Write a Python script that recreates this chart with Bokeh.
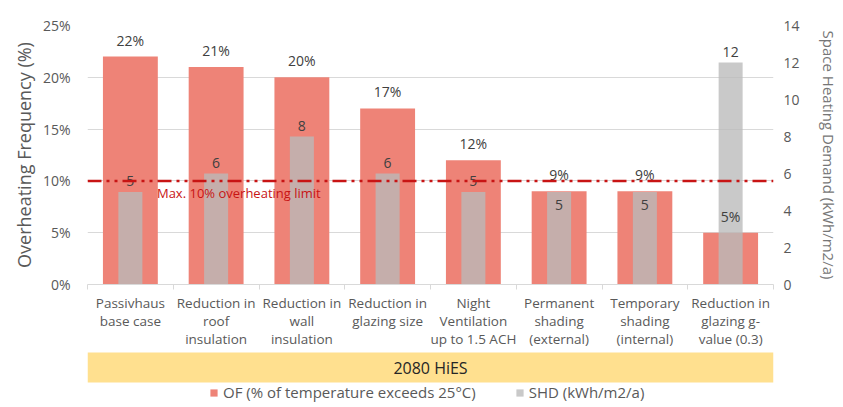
from bokeh.plotting import figure
from bokeh.models import (Range1d, LinearAxis, FixedTicker, PrintfTickFormatter, Grid,
                          Span, Label, Legend, LegendItem, ColumnDataSource, BoxAnnotation)
from bokeh.layouts import column
from bokeh.core.properties import value
from bokeh.embed import file_html
from bokeh.resources import INLINE

# Measures tested for the 2080 HiES climate scenario
categories = [
    "Passivhaus\nbase case",
    "Reduction in\nroof\ninsulation",
    "Reduction in\nwall\ninsulation",
    "Reduction in\nglazing size",
    "Night\nVentilation\nup to 1.5 ACH",
    "Permanent\nshading\n(external)",
    "Temporary\nshading\n(internal)",
    "Reduction in\nglazing g-\nvalue (0.3)",
]
overheating_pct = [22, 21, 20, 17, 12, 9, 9, 5]          # OF, % of hours above 25°C
heating_demand = [5, 6, 8, 6, 5, 5, 5, 12]               # SHD, kWh/m2/a
of_ticks = [0, 5, 10, 15, 20, 25]
shd_ticks = [0, 2, 4, 6, 8, 10, 12, 14]
overheating_limit = 10

FONT = "Open Sans"
RED = "#EE8377"
GREY = "#BABABA"
TEXT = "#595959"

n = len(categories)
xpos = [i + 0.5 for i in range(n)]
OF_MAX, SHD_MAX = of_ticks[-1], shd_ticks[-1]

p = figure(width=843, height=351, x_range=Range1d(0, n), y_range=Range1d(0, OF_MAX),
           x_axis_type=None, y_axis_type=None, output_backend="svg",
           toolbar_location=None, min_border_left=84, min_border_right=70,
           min_border_top=25, min_border_bottom=67, outline_line_color=None)
p.extra_y_ranges = {"shd": Range1d(0, SHD_MAX)}

# left axis: overheating frequency
yl = LinearAxis(ticker=FixedTicker(ticks=of_ticks), formatter=PrintfTickFormatter(format="%d%%"),
                axis_label="Overheating Frequency (%)")
# right axis: space heating demand
yr = LinearAxis(y_range_name="shd", ticker=FixedTicker(ticks=shd_ticks),
                axis_label="Space Heating Demand (kWh/m2/a)")
for ax, size, col, lstand, tstand in ((yl, "18px", TEXT, 17, 4), (yr, "15px", "#767676", 10, 16)):
    ax.axis_line_color = None
    ax.major_tick_line_color = None
    ax.minor_tick_line_color = None
    ax.major_tick_out = 0
    ax.minor_tick_out = 0
    ax.major_label_text_font = FONT
    ax.major_label_text_font_size = "14px"
    ax.major_label_text_color = TEXT
    ax.major_label_standoff = lstand
    ax.axis_label_text_font = FONT
    ax.axis_label_text_font_size = size
    ax.axis_label_text_font_style = "normal"
    ax.axis_label_text_color = col
    ax.axis_label_standoff = tstand
p.add_layout(yl, "left")
p.add_layout(yr, "right")

# category axis: labels at centres, tick marks between categories
xa = LinearAxis(ticker=FixedTicker(ticks=xpos, minor_ticks=list(range(n + 1))),
                major_label_overrides={x: c for x, c in zip(xpos, categories)})
xa.axis_line_color = "#D9D9D9"
xa.major_tick_line_color = None
xa.major_tick_out = 0
xa.minor_tick_line_color = "#D9D9D9"
xa.minor_tick_in = 0
xa.minor_tick_out = 5
xa.major_label_text_font = FONT
xa.major_label_text_font_size = "13.5px"
xa.major_label_text_color = TEXT
xa.major_label_text_line_height = 1.0
xa.major_label_standoff = 4
p.add_layout(xa, "below")

p.add_layout(Grid(dimension=1, ticker=yl.ticker, grid_line_color="#D9D9D9"))

src = ColumnDataSource(dict(x=xpos, of=overheating_pct, shd=heating_demand,
                            of_lbl=[f"{v}%" for v in overheating_pct],
                            shd_lbl=[str(v) for v in heating_demand]))
of_bars = p.vbar(x="x", top="of", width=0.64, source=src, fill_color=RED, line_color=None)
shd_bars = p.vbar(x="x", top="shd", width=0.28, source=src, y_range_name="shd",
                  fill_color=GREY, fill_alpha=0.78, line_color=None)

p.add_layout(Span(location=overheating_limit, dimension="width", line_color="#C81414",
                  line_width=2.5, line_dash="14 5 3 5 3 5"))
p.add_layout(Label(x=0.81, y=overheating_limit, text="Max. 10% overheating limit",
                   text_font=FONT, text_font_size="13px", text_color="#C81414",
                   text_baseline="top", y_offset=-3))

# value labels
p.text(x="x", y="of", text="of_lbl", source=src, text_align="center", text_baseline="bottom",
       y_offset=-7, text_font=value(FONT), text_font_size="14px", text_color="#404040")

# SHD labels sit above the bar, or just inside it where the OF label would collide
above, inside = {k: [] for k in ("x", "shd", "lbl")}, {k: [] for k in ("x", "shd", "lbl")}
for x, of, shd in zip(xpos, overheating_pct, heating_demand):
    target = inside if abs(of * SHD_MAX / OF_MAX - shd) < 1 else above
    target["x"].append(x); target["shd"].append(shd); target["lbl"].append(str(shd))
p.text(x="x", y="shd", text="lbl", source=ColumnDataSource(above), y_range_name="shd",
       text_align="center", text_baseline="bottom", y_offset=-6, text_font=value(FONT),
       text_font_size="14px", text_color="#404040")
p.text(x="x", y="shd", text="lbl", source=ColumnDataSource(inside), y_range_name="shd",
       text_align="center", text_baseline="middle", y_offset=13, text_font=value(FONT),
       text_font_size="14px", text_color="#404040")

# scenario band and legend (y range of this strip runs in pixels from its bottom)
band = figure(width=843, height=56, x_range=Range1d(0, 1), y_range=Range1d(0, 56),
              x_axis_type=None, y_axis_type=None, output_backend="svg", toolbar_location=None,
              min_border_left=87, min_border_right=69, min_border_top=0, min_border_bottom=0,
              outline_line_color=None)
band.add_layout(BoxAnnotation(bottom=25, top=55, fill_color="#FFE08F", fill_alpha=1,
                              line_color=None))
band.add_layout(Label(x=0.5, y=40, text="2080 HiES", text_align="center", text_baseline="middle",
                      text_font=FONT, text_font_size="16px", text_color="#262626"))
# legend keys: single off-range rows so the swatches have a value to draw
of_key = band.vbar(x=[-1], top=[0], width=0.1, fill_color=RED, line_color=None)
shd_key = band.vbar(x=[-1], top=[0], width=0.1, fill_color="#C9C9C9", line_color=None)
legend = Legend(items=[LegendItem(label="OF (% of temperature exceeds 25°C)", renderers=[of_key]),
                       LegendItem(label="SHD (kWh/m2/a)", renderers=[shd_key])],
                orientation="horizontal", location=(122, 5), border_line_color=None,
                background_fill_alpha=0, label_text_font=FONT, label_text_font_size="15px",
                label_text_color=TEXT, glyph_width=9, glyph_height=9, label_standoff=5,
                spacing=39, padding=0, margin=0, label_height=20)
band.add_layout(legend)

layout = column(p, band, spacing=0)
open("out.html", "w").write(file_html(layout, INLINE))
